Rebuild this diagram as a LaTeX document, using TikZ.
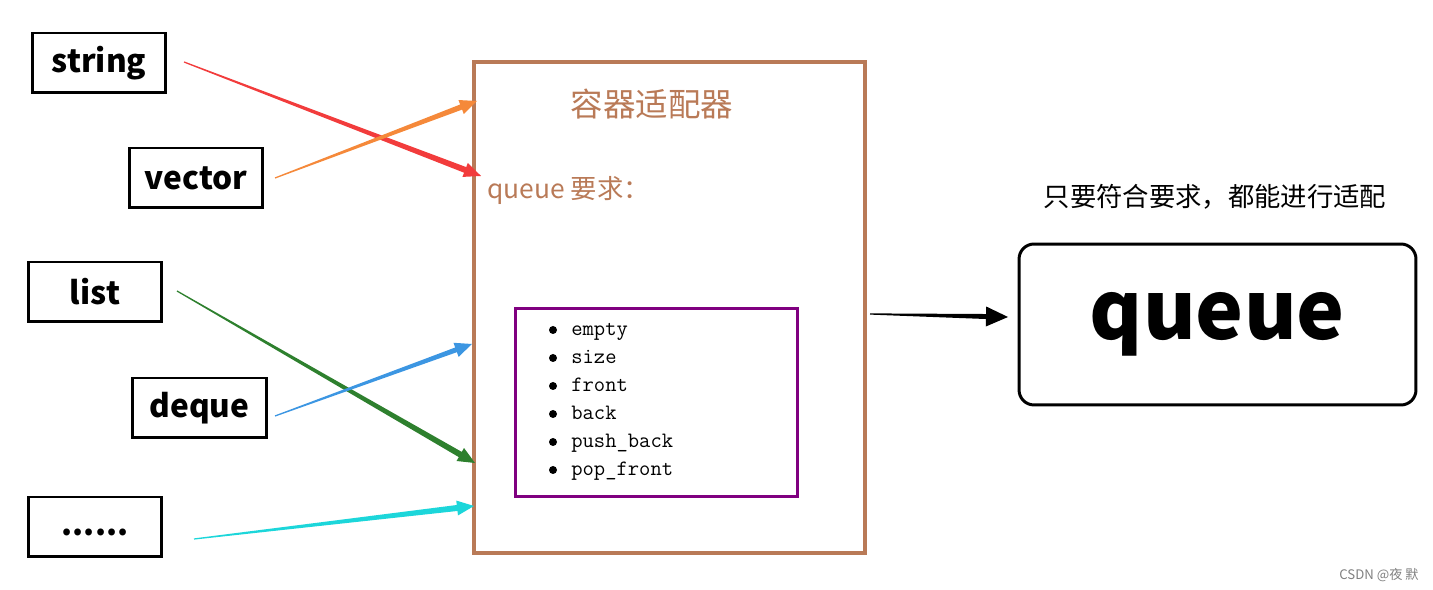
\documentclass[tikz,border=0pt]{standalone}
\usepackage{fontspec}
\setmainfont{Noto Sans CJK SC}
\usetikzlibrary{calc}

\definecolor{adapterbrown}{RGB}{185,122,87}
\definecolor{reqpurple}{RGB}{128,0,128}
\definecolor{arrowred}{RGB}{242,60,60}
\definecolor{arroworange}{RGB}{245,137,58}
\definecolor{arrowgreen}{RGB}{46,128,46}
\definecolor{arrowblue}{RGB}{60,150,226}
\definecolor{arrowcyan}{RGB}{28,214,218}

% tapering arrow: colour, from, to, head length, head half-width, shaft half-width
\newcommand{\fatarrow}[6]{%
  \path ($(#3)!#4!(#2)$) coordinate (fat-base);
  \fill[#1] ($(#2)!0.35pt!90:(#3)$) -- ($(fat-base)!#6!90:(#3)$)
    -- ($(fat-base)!#5!90:(#3)$) -- (#3) -- ($(fat-base)!#5!-90:(#3)$)
    -- ($(fat-base)!#6!-90:(#3)$) -- ($(#2)!0.35pt!-90:(#3)$) -- cycle;
}

\begin{document}
\begin{tikzpicture}[x=0.02cm,y=-0.02cm,
  srcbox/.style={draw,line width=1.7pt,minimum width=2.68cm,minimum height=1.2cm,
    inner sep=0pt,font=\fontsize{18}{20}\selectfont\bfseries},
  itemdot/.style={circle,fill,inner sep=0pt,minimum size=0.16cm},
  itemtext/.style={anchor=base west,inner sep=0pt,font=\ttfamily\fontsize{12.5}{14}\selectfont}]
\useasboundingbox (0,0) rectangle (1433,590);

% containers
\node[srcbox] (string) at (99,63) {string};
\node[srcbox] (vector) at (196,178) {vector};
\node[srcbox] (list) at (95,292) {list};
\node[srcbox] (deque) at (199.5,408) {deque};
\node[srcbox] (more) at (95,527) {\raisebox{-1ex}{......}};

% adapter
\node[draw=adapterbrown,line width=2.3pt,minimum width=7.82cm,minimum height=9.82cm,
  inner sep=0pt] (adapter) at (669.5,307.5) {};
\node[text=adapterbrown,font=\fontsize{18.5}{20}\selectfont] (title) at (652,104) {容器适配器};
\node[text=adapterbrown,anchor=west,inner sep=0pt,font=\fontsize{15}{17}\selectfont]
  (need) at (487,190) {queue 要求：};
\node[draw=reqpurple,line width=1.7pt,minimum width=5.66cm,minimum height=3.78cm,
  inner sep=0pt] (req) at (656.5,402.5) {};
\foreach \name [count=\i] in {empty,size,front,back,push\_back,pop\_front} {
  \node[itemdot] (dot\i) at (553,{330+28*(\i-1)}) {};
  \node[itemtext] (item\i) at (571,{336+28*(\i-1)}) {\name};
}

% result
\node[draw,line width=1.7pt,rounded corners=0.3cm,minimum width=7.94cm,minimum height=3.22cm,
  inner sep=0pt,font=\fontsize{46}{52}\selectfont\bfseries] (queue) at (1217.5,324.5) {queue};
\node[font=\fontsize{15}{17}\selectfont] (hint) at (1215,197) {只要符合要求，都能进行适配};
\node[text=gray,font=\fontsize{7.5}{9}\selectfont] (mark) at (1379,575) {CSDN @夜 默};

% arrows
\coordinate (string-out) at (184,62);
\coordinate (string-in) at (481,176);
\coordinate (vector-out) at (275,178);
\coordinate (vector-in) at (477,101);
\coordinate (list-out) at (177,291);
\coordinate (list-in) at (475,463);
\coordinate (deque-out) at (275,416);
\coordinate (deque-in) at (472,344);
\coordinate (more-out) at (194,539);
\coordinate (more-in) at (474,506);
\coordinate (adapter-out) at (870,314);
\coordinate (queue-in) at (1008,317);

\fatarrow{arrowred}{string-out}{string-in}{0.34cm}{0.15cm}{0.06cm}
\fatarrow{arroworange}{vector-out}{vector-in}{0.34cm}{0.15cm}{0.055cm}
\fatarrow{arrowgreen}{list-out}{list-in}{0.34cm}{0.15cm}{0.06cm}
\fatarrow{arrowblue}{deque-out}{deque-in}{0.34cm}{0.15cm}{0.05cm}
\fatarrow{arrowcyan}{more-out}{more-in}{0.34cm}{0.15cm}{0.06cm}
\fatarrow{black}{adapter-out}{queue-in}{0.44cm}{0.2cm}{0.05cm}
\end{tikzpicture}
\end{document}
